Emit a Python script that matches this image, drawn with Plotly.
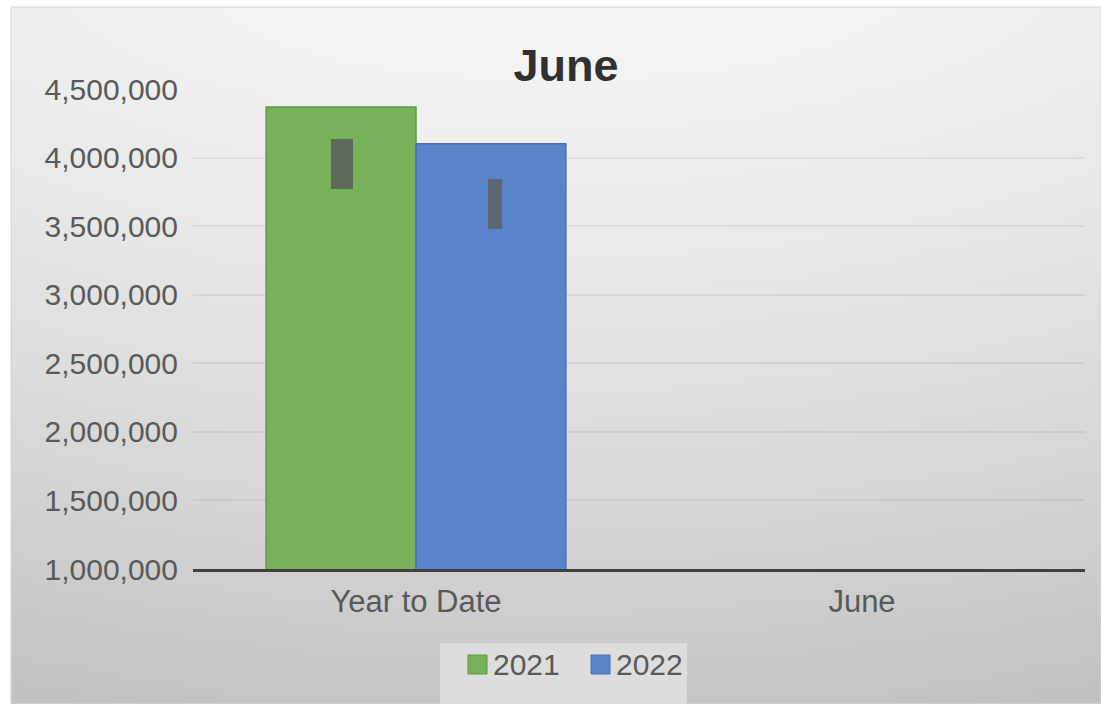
import base64
import struct
import zlib

import numpy as np
import plotly.graph_objects as go

# ---- data -------------------------------------------------------------
categories = ["Year to Date", "June"]
series_names = ["2021", "2022"]
values_2021 = [4_368_000, None]
values_2022 = [4_100_000, None]
# dark range markers inside the Year to Date bars (2021, 2022)
range_low = [3_771_000, 3_479_000]
range_high = [4_135_000, 3_844_000]
y_tick_values = [1_000_000, 1_500_000, 2_000_000, 2_500_000,
                 3_000_000, 3_500_000, 4_000_000, 4_500_000]

# ---- geometry ---------------------------------------------------------
W, H = 1101, 704
L, R, T, B = 193, 16, 89, 135
PW, PH = W - L - R, H - T - B


def px_x(x):
    return (x - L) / PW


def px_y(y):
    return (H - B - y) / PH


def gradient_png(w=220, h=140):
    """Soft vertical grey fade used as the chart-area background."""
    t = np.linspace(0.0, 1.0, h)[:, None]
    s = np.linspace(-1.0, 1.0, w)[None, :]
    v = 244.0 - 46.0 * t ** 1.4 - 5.0 * s ** 2
    img = np.clip(v, 0, 255).astype(np.uint8)
    rgb = np.repeat(img[:, :, None], 3, axis=2)
    raw = b"".join(b"\x00" + row.tobytes() for row in rgb)

    def chunk(tag, data):
        c = struct.pack(">I", len(data)) + tag + data
        return c + struct.pack(">I", zlib.crc32(tag + data) & 0xFFFFFFFF)

    png = (b"\x89PNG\r\n\x1a\n"
           + chunk(b"IHDR", struct.pack(">IIBBBBB", w, h, 8, 2, 0, 0, 0))
           + chunk(b"IDAT", zlib.compress(raw, 9))
           + chunk(b"IEND", b""))
    return "data:image/png;base64," + base64.b64encode(png).decode()


FONT = "Liberation Sans, Arial, sans-serif"
GREEN, GREEN_EDGE = "#77b15a", "#62993f"
BLUE, BLUE_EDGE = "#5a83c9", "#4a6fb5"
BAR_W = 0.336

fig = go.Figure()

fig.add_trace(go.Bar(
    x=categories, y=values_2021, name=series_names[0],
    offset=-BAR_W, width=BAR_W,
    marker=dict(color=GREEN, line=dict(color=GREEN_EDGE, width=1.5)),
))
fig.add_trace(go.Bar(
    x=categories, y=values_2022, name=series_names[1],
    offset=0.0, width=BAR_W,
    marker=dict(color=BLUE, line=dict(color=BLUE_EDGE, width=1.5)),
))

# range markers drawn as floating bars
marker_offsets = [-0.1906, 0.1614]
marker_widths = [0.0493, 0.0314]
marker_colors = ["#5f6b59", "#5e6674"]
for i in range(2):
    fig.add_trace(go.Bar(
        x=[categories[0]], y=[range_high[i] - range_low[i]], base=[range_low[i]],
        offset=marker_offsets[i], width=marker_widths[i],
        marker=dict(color=marker_colors[i], line=dict(width=0)),
        showlegend=False, hoverinfo="skip",
    ))

shapes = [
    # legend panel
    dict(type="rect", xref="paper", yref="paper", layer="below",
         x0=px_x(440), x1=px_x(687), y0=px_y(704), y1=px_y(643),
         fillcolor="#dddddd", line=dict(width=0)),
    # outer chart border
    dict(type="rect", xref="paper", yref="paper", layer="below",
         x0=px_x(11), x1=px_x(1101), y0=px_y(704), y1=px_y(7),
         fillcolor="rgba(0,0,0,0)", line=dict(color="#d4d4d4", width=1)),
]

# legend swatches and labels
annotations = []
swatch_left = [468, 591]
label_left = [491, 614]
for i, (name, col, edge) in enumerate(zip(series_names, [GREEN, BLUE],
                                          [GREEN_EDGE, BLUE_EDGE])):
    shapes.append(dict(
        type="rect", xref="paper", yref="paper",
        x0=px_x(swatch_left[i]), x1=px_x(swatch_left[i] + 19),
        y0=px_y(674), y1=px_y(655),
        fillcolor=col, line=dict(color=edge, width=1)))
    annotations.append(dict(
        xref="paper", yref="paper", x=px_x(label_left[i]), y=px_y(664.5),
        xanchor="left", yanchor="middle", showarrow=False, text=name,
        font=dict(family=FONT, size=30, color="#595959")))

fig.update_layout(
    width=W, height=H,
    margin=dict(l=L, r=R, t=T, b=B, pad=0),
    paper_bgcolor="white",
    plot_bgcolor="rgba(0,0,0,0)",
    barmode="overlay",
    showlegend=False,
    title=dict(text="June", x=566 / W, xanchor="center",
               y=1 - 65 / H, yanchor="middle", xref="container", yref="container",
               font=dict(family=FONT, size=45, color="#303030", weight="bold")),
    images=[dict(source=gradient_png(), xref="paper", yref="paper",
                 x=px_x(11), y=px_y(7), sizex=1090 / PW, sizey=697 / PH,
                 xanchor="left", yanchor="top", sizing="stretch",
                 layer="below")],
    shapes=shapes,
    annotations=annotations,
    xaxis=dict(
        type="category", range=[-0.5, 1.5],
        showgrid=False, showline=True, linecolor="#404040", linewidth=3,
        ticks="", ticklabelstandoff=3,
        tickfont=dict(family=FONT, size=31, color="#595959"),
    ),
    yaxis=dict(
        range=[1_000_000, 4_500_000], tickvals=y_tick_values,
        tickformat=",", showgrid=True, gridcolor="rgba(0,0,0,0.06)", gridwidth=1.5,
        zeroline=False, showline=False, ticks="", ticklabelstandoff=14,
        tickfont=dict(family=FONT, size=30, color="#5a5a5a"),
    ),
)

fig.write_html("out.html")
